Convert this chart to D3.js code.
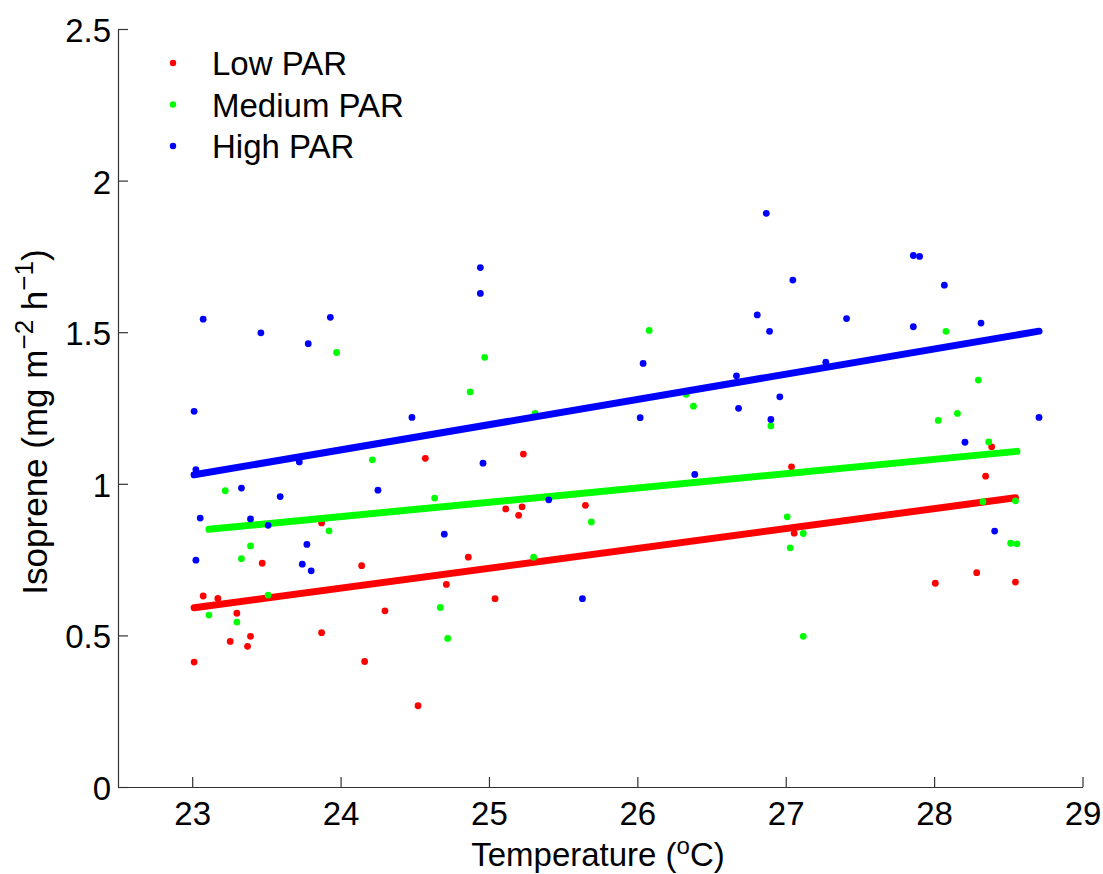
<!DOCTYPE html>
<html>
<head>
<meta charset="utf-8">
<script src="https://cdn.jsdelivr.net/npm/d3@7"></script>
<style>
  html, body { margin: 0; padding: 0; background: #fff; }
  svg { display: block; font-family: "Liberation Sans", Arial, Helvetica, sans-serif; }
</style>
</head>
<body>
<svg id="chart" width="1103" height="874"></svg>
<script>
// ---- Data ----
const seriesNames = ["Low PAR", "Medium PAR", "High PAR"];
const seriesColors = ["#ff0000", "#00ff00", "#0000ff"];

const lowT = [24.571, 23.872, 23.472, 24.142, 23.074, 23.173, 23.301, 24.299, 23.393, 23.872,
              23.256, 23.373, 23.013, 24.162, 24.522, 25.232, 25.113, 25.223, 25.200, 25.650,
              24.861, 24.713, 25.041, 27.039, 28.347, 28.388, 27.057, 28.287, 28.008, 28.548];
const lowIso = [1.084, 0.871, 0.738, 0.730, 0.630, 0.622, 0.573, 0.581, 0.497, 0.509,
                0.480, 0.464, 0.412, 0.414, 0.268, 1.098, 0.917, 0.924, 0.896, 0.929,
                0.758, 0.668, 0.621, 1.056, 1.025, 1.122, 0.837, 0.707, 0.672, 0.676];

const medT = [23.973, 24.214, 23.223, 24.634, 23.922, 23.393, 23.332, 23.512, 23.113, 23.301,
              24.672, 24.722, 26.080, 24.971, 24.873, 26.329, 26.378, 25.311, 25.690, 25.301,
              28.080, 28.298, 26.900, 28.157, 28.028, 28.368, 28.329, 28.548, 27.010, 27.118,
              27.030, 28.516, 28.558, 27.118];
const medIso = [1.433, 1.079, 0.977, 0.953, 0.845, 0.795, 0.753, 0.633, 0.567, 0.544,
                0.592, 0.490, 1.506, 1.417, 1.303, 1.295, 1.256, 1.232, 0.874, 0.758,
                1.503, 1.342, 1.191, 1.232, 1.209, 1.138, 0.941, 0.944, 0.891, 0.836,
                0.789, 0.804, 0.802, 0.497];

const highT = [23.074, 23.463, 23.931, 23.782, 23.013, 24.481, 23.025, 23.722, 23.332, 23.593,
               24.252, 23.054, 23.393, 23.512, 23.773, 23.025, 23.742, 23.802, 24.942, 24.942,
               26.808, 26.039, 26.668, 26.682, 26.019, 24.960, 26.387, 25.403, 24.699, 25.630,
               26.869, 27.860, 27.902, 27.048, 28.069, 26.891, 27.410, 27.860, 28.316, 27.270,
               26.960, 26.900, 28.707, 28.208, 28.408];
const highIso = [1.543, 1.498, 1.549, 1.462, 1.239, 1.219, 1.047, 1.072, 0.986, 0.958,
                 0.979, 0.887, 0.884, 0.863, 0.800, 0.748, 0.735, 0.713, 1.713, 1.628,
                 1.557, 1.397, 1.356, 1.249, 1.218, 1.068, 1.031, 0.947, 0.834, 0.621,
                 1.892, 1.753, 1.750, 1.672, 1.655, 1.503, 1.545, 1.518, 1.530, 1.401,
                 1.287, 1.212, 1.219, 1.137, 0.844];

// linear fits (slope, intercept)
const fitSlopes = [0.0655, 0.0472, 0.0832];
const fitIntercepts = [-0.916, -0.241, -0.885];

const xTicks = [23, 24, 25, 26, 27, 28, 29];
const yTicks = [0, 0.5, 1, 1.5, 2, 2.5];
const xDomain = [22.5, 29];
const yDomain = [0, 2.5];

// ---- Layout ----
const svg = d3.select("#chart");
const mLeft = 118, mRight = 1082.5, mTop = 29, mBottom = 787;
const FONT = 33;
const axisColor = "#333";

const x = d3.scaleLinear().domain(xDomain).range([mLeft, mRight]);
const y = d3.scaleLinear().domain(yDomain).range([mBottom, mTop]);

const seriesT = [lowT, medT, highT];
const seriesV = [lowIso, medIso, highIso];

// ---- Axes ----
const gx = svg.append("g")
  .attr("transform", `translate(0,${mBottom})`)
  .call(d3.axisBottom(x).tickValues(xTicks).tickFormat(d3.format("d"))
        .tickSizeInner(-10).tickSizeOuter(0).tickPadding(15));
const gy = svg.append("g")
  .attr("transform", `translate(${mLeft},0)`)
  .call(d3.axisLeft(y).tickValues(yTicks).tickFormat(d => d3.format("")(d))
        .tickSizeInner(-10).tickSizeOuter(0).tickPadding(7));

[gx, gy].forEach(g => {
  g.select(".domain").attr("stroke", axisColor).attr("stroke-width", 1.2);
  g.selectAll(".tick line").attr("stroke", axisColor).attr("stroke-width", 1.2);
  g.selectAll(".tick text").attr("fill", "#000")
    .style("font-size", FONT + "px")
    .style("font-family", "'Liberation Sans', Arial, Helvetica, sans-serif");
});
gy.selectAll(".tick text").attr("dy", "0.38em");

// ---- Series: points then fit line ----
seriesNames.forEach((name, i) => {
  const pts = seriesT[i].map((t, k) => ({ t, v: seriesV[i][k] }));
  svg.append("g").selectAll("circle")
    .data(pts).join("circle")
    .attr("cx", d => x(d.t))
    .attr("cy", d => y(d.v))
    .attr("r", 3.4)
    .attr("fill", seriesColors[i]);

  const ext = d3.extent(seriesT[i]);
  const fit = ext.map(t => ({ t, v: fitSlopes[i] * t + fitIntercepts[i] }));
  svg.append("path")
    .datum(fit)
    .attr("d", d3.line().x(d => x(d.t)).y(d => y(d.v)))
    .attr("fill", "none")
    .attr("stroke", seriesColors[i])
    .attr("stroke-width", 7)
    .attr("stroke-linecap", "round");
});

// ---- Legend ----
const legendY = [63, 104.5, 146];
const lg = svg.append("g");
seriesNames.forEach((name, i) => {
  lg.append("circle").attr("cx", 173).attr("cy", legendY[i]).attr("r", 3.2)
    .attr("fill", seriesColors[i]);
  lg.append("text").attr("x", 212).attr("y", legendY[i] + 12)
    .style("font-size", FONT + "px").attr("fill", "#000").text(name);
});

// ---- Axis labels ----
const xl = svg.append("text")
  .attr("x", 598).attr("y", 866)
  .attr("text-anchor", "middle")
  .style("font-size", FONT + "px").attr("fill", "#000");
xl.append("tspan").text("Temperature (");
xl.append("tspan").attr("dy", -12).style("font-size", "24px").text("o");
xl.append("tspan").attr("dy", 12).text("C)");

const yl = svg.append("text")
  .attr("transform", "translate(47,422) rotate(-90)")
  .attr("text-anchor", "middle")
  .style("font-size", "35px").attr("fill", "#000");
yl.append("tspan").text("Isoprene (mg m");
yl.append("tspan").attr("dy", -14).style("font-size", "26px").text("\u22122");
yl.append("tspan").attr("dy", 14).text(" h");
yl.append("tspan").attr("dy", -14).style("font-size", "26px").text("\u22121");
yl.append("tspan").attr("dy", 14).text(")");
</script>
</body>
</html>
